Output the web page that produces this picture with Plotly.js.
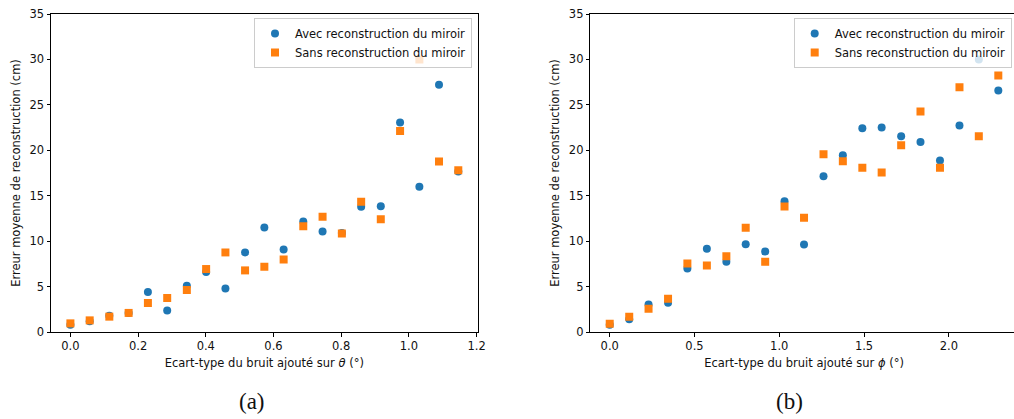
<!DOCTYPE html>
<html>
<head>
<meta charset="utf-8">
<script src="https://cdn.plot.ly/plotly-3.0.1.min.js"></script>
<style>
html, body { margin: 0; padding: 0; overflow: hidden; background: #fff; }
#chart { width: 1022px; height: 419px; }
</style>
</head>
<body>
<div id="chart"></div>
<script>
// (a) noise on theta (degrees)
const thetaNoise = [0, 0.057, 0.115, 0.172, 0.229, 0.286, 0.344, 0.401, 0.458, 0.516, 0.573, 0.630, 0.688, 0.745, 0.802, 0.859, 0.917, 0.974, 1.031, 1.089, 1.146];
const thetaAvec = [0.81, 1.17, 1.8, 2.1, 4.4, 2.38, 5.1, 6.6, 4.8, 8.76, 11.5, 9.09, 12.17, 11.07, 10.9, 13.78, 13.85, 23.05, 16.0, 27.2, 17.66];
const thetaSans = [0.95, 1.28, 1.69, 2.1, 3.19, 3.74, 4.62, 6.93, 8.76, 6.78, 7.18, 7.99, 11.65, 12.68, 10.85, 14.33, 12.42, 22.13, 30.0, 18.76, 17.81];

// (b) noise on phi (degrees)
const phiNoise = [0, 0.115, 0.229, 0.344, 0.458, 0.573, 0.688, 0.802, 0.917, 1.031, 1.146, 1.261, 1.375, 1.490, 1.604, 1.719, 1.833, 1.948, 2.063, 2.177, 2.292];
const phiAvec = [0.81, 1.39, 3.04, 3.22, 7.0, 9.16, 7.73, 9.67, 8.87, 14.4, 9.64, 17.15, 19.46, 22.43, 22.5, 21.55, 20.92, 18.87, 22.72, 30.0, 26.57];
const phiSans = [0.92, 1.69, 2.57, 3.66, 7.55, 7.33, 8.35, 11.47, 7.73, 13.81, 12.57, 19.57, 18.8, 18.07, 17.55, 20.56, 24.26, 18.07, 26.93, 21.55, 28.22];

const seriesNames = ['Avec reconstruction du miroir', 'Sans reconstruction du miroir'];
const xTitles = ['Ecart-type du bruit ajouté sur <i>θ</i> (°)', 'Ecart-type du bruit ajouté sur <i>ϕ</i> (°)'];
const yTitle = 'Erreur moyenne de reconstruction (cm)';
const captions = ['(a)', '(b)'];

const W = 1022, H = 419;
const blue = '#1f77b4', orange = '#ff7f0e';
const font = 'DejaVu Sans, sans-serif';

const traces = [
  {x: thetaNoise, y: thetaAvec, name: seriesNames[0], type: 'scatter', mode: 'markers',
   marker: {color: blue, size: 8, symbol: 'circle'}, xaxis: 'x', yaxis: 'y', legend: 'legend'},
  {x: thetaNoise, y: thetaSans, name: seriesNames[1], type: 'scatter', mode: 'markers',
   marker: {color: orange, size: 8, symbol: 'square'}, xaxis: 'x', yaxis: 'y', legend: 'legend'},
  {x: phiNoise, y: phiAvec, name: seriesNames[0], type: 'scatter', mode: 'markers',
   marker: {color: blue, size: 8, symbol: 'circle'}, xaxis: 'x2', yaxis: 'y2', legend: 'legend2'},
  {x: phiNoise, y: phiSans, name: seriesNames[1], type: 'scatter', mode: 'markers',
   marker: {color: orange, size: 8, symbol: 'square'}, xaxis: 'x2', yaxis: 'y2', legend: 'legend2'}
];

const axisCommon = {
  showgrid: false, zeroline: false, showline: true, mirror: true,
  linecolor: '#000', linewidth: 1, ticks: 'outside', ticklen: 3.5, tickwidth: 1, tickcolor: '#000',
  tickfont: {family: font, size: 11.5, color: '#111'}
};

const yDomain = [87 / H, 405 / H];

const legendCommon = {
  xanchor: 'right', y: 1 - 18 / H, yanchor: 'top',
  bgcolor: 'rgba(255,255,255,0.8)', bordercolor: '#cccccc', borderwidth: 1,
  font: {family: font, size: 11.5, color: '#111'}, tracegroupgap: 0
};

const layout = {
  width: W, height: H, autosize: false,
  margin: {l: 0, r: 0, t: 0, b: 0},
  paper_bgcolor: '#fff', plot_bgcolor: '#fff',
  font: {family: font, size: 11.5, color: '#111'},
  xaxis: Object.assign({}, axisCommon, {
    domain: [51 / W, 477.7 / W], range: [-0.0573, 1.2033], anchor: 'y',
    tickmode: 'linear', tick0: 0, dtick: 0.2, tickformat: '.1f',
    title: {text: xTitles[0], font: {family: font, size: 11.5, color: '#111'}, standoff: 6}
  }),
  yaxis: Object.assign({}, axisCommon, {
    domain: yDomain, range: [0, 35], anchor: 'x',
    tickmode: 'linear', tick0: 0, dtick: 5,
    title: {text: yTitle, font: {family: font, size: 11.5, color: '#111'}, standoff: 6}
  }),
  xaxis2: Object.assign({}, axisCommon, {
    domain: [590.3 / W, 1017.7 / W], range: [-0.1146, 2.4064], anchor: 'y2',
    tickmode: 'linear', tick0: 0, dtick: 0.5, tickformat: '.1f',
    title: {text: xTitles[1], font: {family: font, size: 11.5, color: '#111'}, standoff: 6}
  }),
  yaxis2: Object.assign({}, axisCommon, {
    domain: yDomain, range: [0, 35], anchor: 'x2',
    tickmode: 'linear', tick0: 0, dtick: 5,
    title: {text: yTitle, font: {family: font, size: 11.5, color: '#111'}, standoff: 6}
  }),
  legend: Object.assign({}, legendCommon, {x: 472 / W}),
  legend2: Object.assign({}, legendCommon, {x: 1011.7 / W}),
  showlegend: true,
  annotations: [
    {text: captions[0], xref: 'paper', yref: 'paper', x: 252 / W, y: 1 - 401 / H,
     xanchor: 'center', yanchor: 'middle', showarrow: false,
     font: {family: 'Liberation Serif, serif', size: 23, color: '#111'}},
    {text: captions[1], xref: 'paper', yref: 'paper', x: 789 / W, y: 1 - 401 / H,
     xanchor: 'center', yanchor: 'middle', showarrow: false,
     font: {family: 'Liberation Serif, serif', size: 23, color: '#111'}}
  ]
};

Plotly.newPlot('chart', traces, layout, {displayModeBar: false, staticPlot: true});
</script>
</body>
</html>
